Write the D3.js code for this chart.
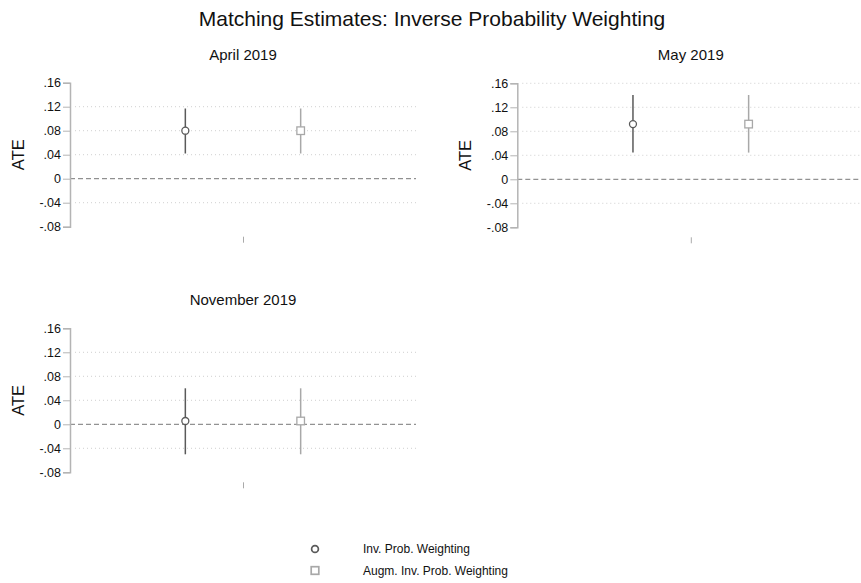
<!DOCTYPE html>
<html>
<head>
<meta charset="utf-8">
<script src="https://cdn.jsdelivr.net/npm/d3@7"></script>
<style>
body{margin:0;background:#fff;}
svg{font-family:"Liberation Sans",Arial,Helvetica,sans-serif;}
</style>
</head>
<body>
<svg id="chart" width="861" height="583"></svg>
<script>
// data
const panels = ['April 2019', 'May 2019', 'November 2019'];
const series = ['Inv. Prob. Weighting', 'Augm. Inv. Prob. Weighting'];
const estimate = [[0.080, 0.080], [0.092, 0.092], [0.0055, 0.0055]];
const ciLow = [[0.042, 0.042], [0.0445, 0.0445], [-0.050, -0.050]];
const ciHigh = [[0.117, 0.117], [0.1405, 0.1405], [0.060, 0.060]];
const yTicks = [-0.08, -0.04, 0, 0.04, 0.08, 0.12, 0.16];
const gridTop = [false, true, false]; // only May shows a grid line at .16

const svg = d3.select('#chart');
const color = ['#5a5a5a', '#a8a8a8'];
const fmt = v => v === 0 ? '0' : d3.format('.2f')(Math.abs(v)).replace('0.', (v < 0 ? '-' : '') + '.');

svg.append('text')
	.attr('x', 432).attr('y', 26)
	.attr('text-anchor', 'middle')
	.style('font-size', '21px')
	.attr('fill', '#111')
	.text('Matching Estimates: Inverse Probability Weighting');

const layout = [
	{left: 70, top: 82.7, width: 346},
	{left: 517.3, top: 83.3, width: 347},
	{left: 70, top: 328.3, width: 346}
];
const plotH = 144;

panels.forEach((name, p) => {
	const L = layout[p];
	const g = svg.append('g').attr('transform', 'translate(' + L.left + ',' + L.top + ')');

	const x = d3.scaleLinear().domain([0, 3]).range([0, L.width]);
	const y = d3.scaleLinear().domain([-0.08, 0.16]).range([plotH, 0]);

	// subtitle
	g.append('text')
		.attr('x', x(1.5)).attr('y', -23)
		.attr('text-anchor', 'middle')
		.style('font-size', '15px')
		.attr('fill', '#111')
		.text(name);

	// grid lines
	g.selectAll('.grid').data(yTicks.filter(t => t !== 0 && t !== -0.08 && (t !== 0.16 || gridTop[p])))
		.enter().append('line')
		.attr('class', 'grid')
		.attr('x1', 5).attr('x2', L.width)
		.attr('y1', d => y(d)).attr('y2', d => y(d))
		.attr('stroke', '#c4c4c4')
		.attr('stroke-width', 0.8)
		.attr('stroke-dasharray', '1,3');

	// zero reference line
	g.append('line')
		.attr('x1', 0).attr('x2', L.width)
		.attr('y1', y(0)).attr('y2', y(0))
		.attr('stroke', '#777')
		.attr('stroke-width', 1)
		.attr('stroke-dasharray', '5,3');

	// y axis
	const ax = g.append('g')
		.call(d3.axisLeft(y).tickValues(yTicks).tickFormat(fmt).tickSize(7).tickPadding(2));
	ax.attr('font-family', null).attr('font-size', null);
	ax.select('.domain').attr('stroke', '#b4b4b4').attr('stroke-width', 1.5);
	ax.selectAll('.tick line').attr('stroke', '#b4b4b4');
	ax.selectAll('.tick text').style('font-size', '12.5px').attr('fill', '#111');

	g.append('text')
		.attr('transform', 'translate(' + (-46) + ',' + (plotH / 2) + ') rotate(-90)')
		.attr('text-anchor', 'middle')
		.style('font-size', '16.5px')
		.attr('fill', '#111')
		.text('ATE');

	// x axis: only the centre tick is visible
	const xa = g.append('g')
		.attr('transform', 'translate(0,' + (plotH + 10) + ')')
		.call(d3.axisBottom(x).tickValues([1.5]).tickFormat('').tickSize(6));
	xa.select('.domain').remove();
	xa.selectAll('.tick line').attr('stroke', '#aaa');

	// confidence intervals and estimates
	series.forEach((s, i) => {
		const xv = i + 1;
		g.append('line')
			.attr('x1', x(xv)).attr('x2', x(xv))
			.attr('y1', y(ciLow[p][i])).attr('y2', y(ciHigh[p][i]))
			.attr('stroke', color[i])
			.attr('stroke-width', 1.5);
		if (i === 0) {
			g.append('circle')
				.attr('cx', x(xv)).attr('cy', y(estimate[p][i]))
				.attr('r', 3.5)
				.attr('fill', '#fff')
				.attr('stroke', color[i])
				.attr('stroke-width', 1.3);
		} else {
			g.append('rect')
				.attr('x', x(xv) - 3.8).attr('y', y(estimate[p][i]) - 3.8)
				.attr('width', 7.6).attr('height', 7.6)
				.attr('fill', '#fff')
				.attr('stroke', color[i])
				.attr('stroke-width', 1.3);
		}
	});
});

// legend
const lg = svg.append('g').attr('transform', 'translate(315,549)');
series.forEach((s, i) => {
	const row = lg.append('g').attr('transform', 'translate(0,' + (i * 21.5) + ')');
	if (i === 0) {
		row.append('circle').attr('r', 3.4).attr('fill', '#fff')
			.attr('stroke', color[i]).attr('stroke-width', 1.7);
	} else {
		row.append('rect').attr('x', -3.8).attr('y', -3.8).attr('width', 7.6).attr('height', 7.6)
			.attr('fill', '#fff').attr('stroke', color[i]).attr('stroke-width', 1.7);
	}
	row.append('text')
		.attr('x', 48).attr('y', 0).attr('dy', '0.35em')
		.style('font-size', '12px')
		.attr('fill', '#111')
		.text(s);
});
</script>
</body>
</html>
